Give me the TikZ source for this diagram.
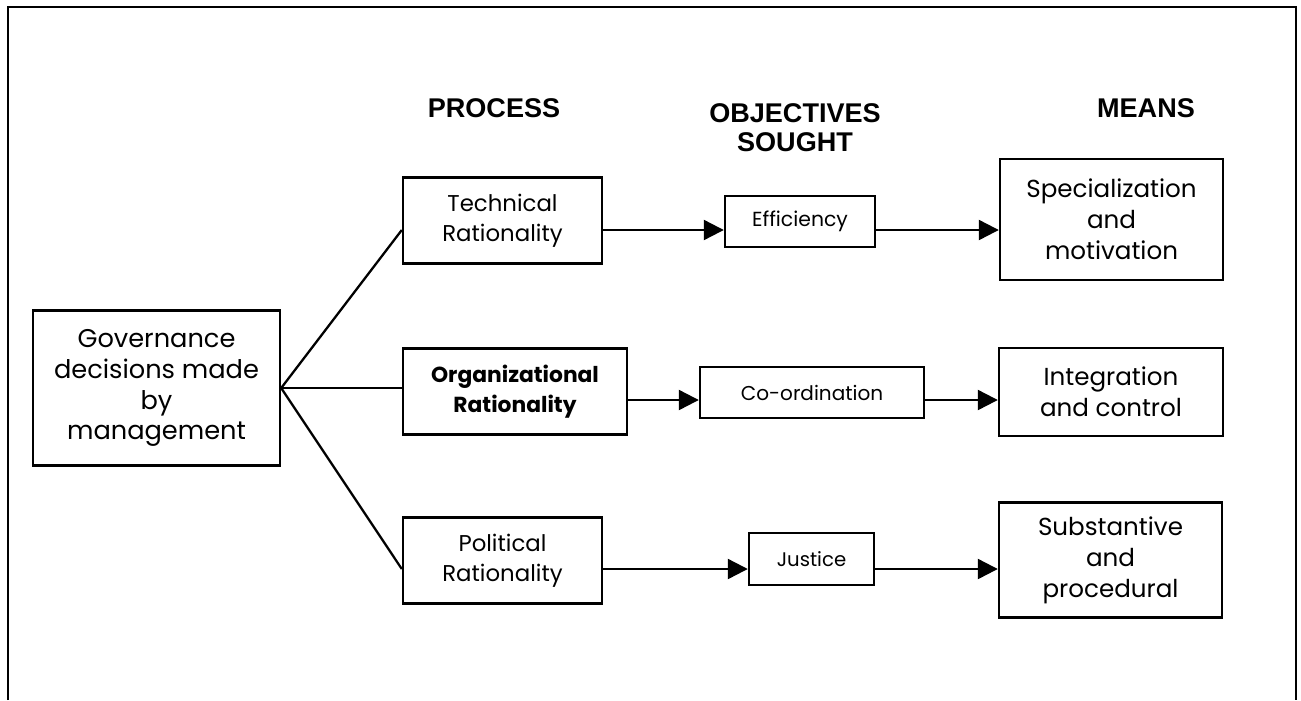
\documentclass[tikz,border=0pt]{standalone}
\usepackage{fontspec}
\setmainfont{Poppins}
\newfontfamily\headfont{Liberation Sans}
\usepackage{tikz}
\usetikzlibrary{positioning,arrows.meta,calc}

\begin{document}
\begin{tikzpicture}[
    x=0.02cm, y=-0.02cm,
    % Plain boxes with sharp corners
    block/.style={
        draw=black,
        line width=1.4pt,
        text=black,
        align=center,
        font=\fontsize{14}{17.6}\selectfont,
        inner sep=0pt,
        rectangle
    },
    % Process column boxes
    procblock/.style={
        block,
        font=\fontsize{13}{17}\selectfont,
        minimum height=1.72cm
    },
    % Smaller boxes in the middle column
    goalblock/.style={
        block,
        minimum height=1.03cm
    },
    % Column titles
    heading/.style={
        align=center,
        font=\headfont\bfseries\fontsize{15.4}{16.6}\selectfont
    },
    % Straight connectors from the root box
    link/.style={
        draw=black,
        line width=1.3pt
    },
    % Arrows with filled triangle tips
    arrow/.style={
        -{Triangle[length=0.4cm, width=0.4cm]},
        draw=black,
        line width=1.3pt
    }
]
\useasboundingbox (0,0) rectangle (1301,700);

% --- Outer frame (open at the bottom) ---
\draw[line width=1.5pt] (8,700) -- (8,7) -- (1296,7) -- (1296,700);

% --- Column titles ---
\node[heading] (process) at (494,108) {PROCESS};
\node[heading, anchor=north] (objectives) at (795,97) {OBJECTIVES\\SOUGHT};
\node[heading] (means) at (1146,108) {MEANS};

% --- Row heights for the connectors ---
\coordinate (row1) at (0,230);
\coordinate (row2) at (0,400);
\coordinate (row3) at (0,569);

% --- LEVEL 0: Root box ---
\node[block, font=\fontsize{14.6}{17.6}\selectfont,
      minimum width=4.94cm, minimum height=3.1cm] (gov) at (156.5,388) {
    Governance\\ decisions made\\ by\\ management
};

% --- LEVEL 1: Process boxes ---
\node[procblock, minimum width=3.98cm] (technical) at (502.5,220.5) {
    Technical\\ Rationality
};
\node[procblock, font=\fontsize{12.4}{17}\selectfont\bfseries,
      minimum width=4.48cm] (organizational) at (515,391.5) {
    Organizational\\ Rationality
};
\node[procblock, minimum width=3.98cm] (political) at (502.5,560.5) {
    Political\\ Rationality
};

% --- LEVEL 2: Objectives sought ---
\node[goalblock, font=\fontsize{11.6}{14}\selectfont, minimum width=3.0cm] (efficiency) at (800,221.5) {Efficiency};
\node[goalblock, font=\fontsize{11.4}{14}\selectfont, minimum width=4.48cm] (coordination) at (812,392.5) {Co-ordination};
\node[goalblock, font=\fontsize{11.2}{14}\selectfont, minimum width=2.5cm] (justice) at (811.5,559) {Justice};

% --- LEVEL 3: Means ---
\node[block, minimum width=4.46cm, minimum height=2.42cm] (specialization) at (1111.5,219.5) {
    Specialization\\ and\\ motivation
};
\node[block, minimum width=4.48cm, minimum height=1.76cm] (integration) at (1111,392) {
    Integration\\ and control
};
\node[block, minimum width=4.46cm, minimum height=2.3cm] (substantive) at (1110.5,560) {
    Substantive\\ and\\ procedural
};

% Fan out from the root box
\draw[link] (gov.east) -- (technical.west |- row1);
\draw[link] (gov.east) -- (organizational.west |- gov.east);
\draw[link] (gov.east) -- (political.west |- row3);

% Arrows along each row
\draw[arrow] (technical.east |- row1) -- (efficiency.west |- row1);
\draw[arrow] (efficiency.east |- row1) -- (specialization.west |- row1);
\draw[arrow] (organizational.east |- row2) -- (coordination.west |- row2);
\draw[arrow] (coordination.east |- row2) -- (integration.west |- row2);
\draw[arrow] (political.east |- row3) -- (justice.west |- row3);
\draw[arrow] (justice.east |- row3) -- (substantive.west |- row3);

\end{tikzpicture}
\end{document}
